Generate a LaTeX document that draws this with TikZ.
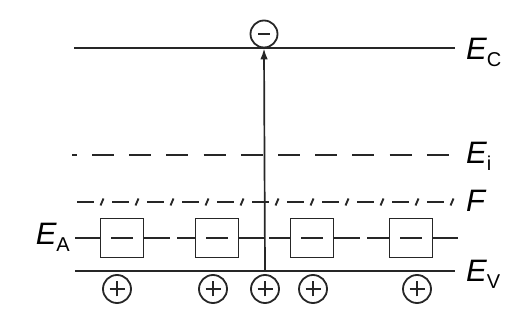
\documentclass[tikz,border=0pt]{standalone}
\usepackage{fontspec}
\setmainfont{Liberation Sans}
\usetikzlibrary{arrows.meta, positioning}

\newcommand{\bandlabel}[1]{{\itshape E}\raisebox{-7pt}{\fontsize{20}{20}\selectfont #1}}

\begin{document}
\begin{tikzpicture}[
    x=1pt, y=-1pt,
    >={Latex[length=11pt, width=7.5pt]},
    level/.style={draw=black!85, line width=2pt},
    lab/.style={inner sep=0pt, font=\fontsize{31}{31}\selectfont},
    acceptor/.style={draw=black!85, line width=1.8pt, minimum width=43pt, minimum height=39pt, inner sep=0pt,
        path picture={\draw[black!85, line width=2.2pt] ([xshift=-11pt]path picture bounding box.center) -- ([xshift=11pt]path picture bounding box.center);}},
    carrier/.style={circle, draw=black!85, line width=1.8pt, minimum size=#1, inner sep=0pt},
    hole/.style={carrier=28pt,
        path picture={\draw[black!85, line width=2pt] ([xshift=-7.5pt]path picture bounding box.center) -- ([xshift=7.5pt]path picture bounding box.center)
            ([yshift=-7.5pt]path picture bounding box.center) -- ([yshift=7.5pt]path picture bounding box.center);}},
    electron/.style={carrier=27pt,
        path picture={\draw[black!85, line width=2.2pt] ([xshift=-6pt]path picture bounding box.center) -- ([xshift=6pt]path picture bounding box.center);}}
]
\useasboundingbox (0,0) rectangle (506,320);

% Band edges
\coordinate (c0) at (74,48);
\coordinate (c1) at (455,48);
\coordinate (v0) at (75,271);
\coordinate (v1) at (455,271);
\draw[level] (c0) -- (c1);
\draw[level] (v0) -- (v1);
\node[lab, anchor=base west] (lc) at (466,60) {\bandlabel{C}};
\node[lab, anchor=base west] (lv) at (466,282) {\bandlabel{V}};

% Intrinsic level
\coordinate (i0) at (72,155);
\coordinate (i1) at (449,155);
\draw[level, line width=2.6pt, dash pattern=on 22pt off 15.2pt, dash phase=17.2pt] (i0) -- (i1);
\node[lab, anchor=base west] (li) at (466,164) {\bandlabel{i}};

% Fermi level
\coordinate (f0) at (77,202);
\coordinate (f1) at (444,202);
\draw[level, line width=2.2pt, dash pattern=on 17pt off 18pt] (f0) -- (f1);
\foreach \k in {0,...,10}
    \draw[level, line width=1.9pt] ({77+35*\k+23.5},205.5) -- ++(3,-7);
\node[lab, anchor=base west] (lf) at (466,212) {\itshape F};

% Acceptor level
\node[acceptor] (acc1) at (122,238) {};
\node[acceptor] (acc2) at (217,238) {};
\node[acceptor] (acc3) at (312,238) {};
\node[acceptor] (acc4) at (411,238) {};
\coordinate (a0) at (75,238);
\coordinate (a1) at (170,238);
\coordinate (a2) at (177,238);
\coordinate (a3) at (265,238);
\coordinate (a4) at (269,238);
\coordinate (a5) at (360,238);
\coordinate (a6) at (367,238);
\coordinate (a7) at (458,238);
\draw[level, line width=1.8pt] (a0) -- (acc1.west) (acc1.east) -- (a1)
    (a2) -- (acc2.west) (acc2.east) -- (a3)
    (a4) -- (acc3.west) (acc3.east) -- (a5)
    (a6) -- (acc4.west) (acc4.east) -- (a7);
\node[lab, anchor=base east] (la) at (70,245) {\bandlabel{A}};

% Holes and the excited electron
\node[hole] (h1) at (117,289) {};
\node[hole] (h2) at (213,289) {};
\node[hole] (h3) at (265,289) {};
\node[hole] (h4) at (313,289) {};
\node[hole] (h5) at (417,289) {};
\node[electron] (el) at (264,34) {};
\draw[->, black!85, line width=1.7pt] ([yshift=4pt]h3.north) -- (el.south);

\end{tikzpicture}
\end{document}
